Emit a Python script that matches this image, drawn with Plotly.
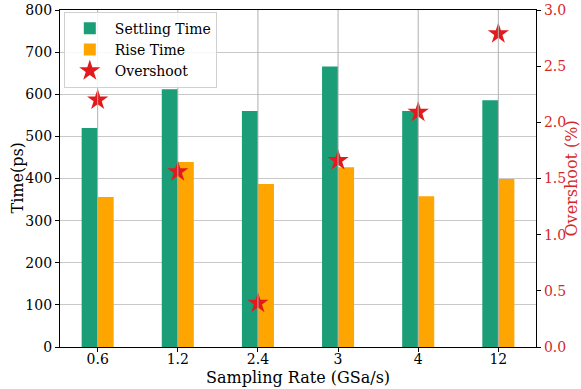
import plotly.graph_objects as go

categories = ["0.6", "1.2", "2.4", "3", "4", "12"]
settling_time = [520, 612, 560, 666, 560, 586]
rise_time = [356, 439, 387, 427, 358, 399]
overshoot = [2.2, 1.56, 0.39, 1.66, 2.09, 2.79]
left_ticks = [0, 100, 200, 300, 400, 500, 600, 700, 800]
right_ticks = [0.0, 0.5, 1.0, 1.5, 2.0, 2.5, 3.0]

idx = list(range(len(categories)))
FONT = "DejaVu Serif"
GREEN = "#1b9e77"
ORANGE = "#ffa500"
RED = "#e31a1c"
AXRED = "#d62728"

fig = go.Figure()
fig.add_trace(go.Bar(x=idx, y=settling_time, width=0.2, offset=-0.2,
                     marker=dict(color=GREEN, line=dict(width=0)), name="Settling Time"))
fig.add_trace(go.Bar(x=idx, y=rise_time, width=0.2, offset=0,
                     marker=dict(color=ORANGE, line=dict(width=0)), name="Rise Time"))
fig.add_trace(go.Scatter(x=idx, y=overshoot, mode="markers", yaxis="y2",
                         marker=dict(symbol="star", size=16, color=RED, line=dict(width=0)),
                         name="Overshoot"))

# vertical grid lines drawn above bars (as in reference)
for i in idx:
    fig.add_shape(type="line", xref="x", yref="paper", x0=i, x1=i, y0=0, y1=1,
                  line=dict(color="#b0b0b0", width=1), layer="above")

tick_font = dict(family=FONT, size=14, color="black")

fig.update_layout(
    width=581, height=389,
    margin=dict(l=60, r=45, t=10, b=42),
    paper_bgcolor="white", plot_bgcolor="white",
    font=dict(family=FONT, size=14, color="black"),
    barmode="overlay",
    xaxis=dict(range=[-0.47, 5.47], tickmode="array", tickvals=idx, ticktext=categories,
               showgrid=False, showline=True, linecolor="black", linewidth=1.2, mirror=True,
               ticks="outside", ticklen=4, tickcolor="black", zeroline=False, automargin=False,
               ticklabelstandoff=-5, tickfont=tick_font),
    yaxis=dict(range=[0, 800], tickmode="array", tickvals=left_ticks,
               showgrid=True, gridcolor="#c8c8c8", gridwidth=1,
               showline=True, linecolor="black", linewidth=1.2, automargin=False,
               ticks="outside", ticklen=4, tickcolor="black", zeroline=False,
               tickfont=tick_font),
    yaxis2=dict(range=[0, 3], overlaying="y", side="right", tickmode="array",
                tickvals=right_ticks, tickformat=".1f", showgrid=False,
                showline=True, linecolor="black", linewidth=1.2, automargin=False,
                ticks="outside", ticklen=4, tickcolor="black", zeroline=False,
                tickfont=dict(family=FONT, size=14, color=AXRED)),
    legend=dict(x=0.008, y=0.995, xanchor="left", yanchor="top",
                bgcolor="rgba(255,255,255,0.85)", bordercolor="#d0d0d0", borderwidth=1,
                font=dict(family=FONT, size=14), itemwidth=40, tracegroupgap=2),
    showlegend=True,
    annotations=[
        dict(text="Sampling Rate (GSa/s)", xref="paper", yref="paper", x=0.5, y=0,
             xanchor="center", yanchor="middle", yshift=-30, showarrow=False,
             font=dict(family=FONT, size=16, color="black")),
        dict(text="Time(ps)", xref="paper", yref="paper", x=0, y=0.5, textangle=-90,
             xanchor="center", yanchor="middle", xshift=-43, showarrow=False,
             font=dict(family=FONT, size=16, color="black")),
        dict(text="Overshoot (%)", xref="paper", yref="paper", x=1, y=0.5, textangle=-90,
             xanchor="center", yanchor="middle", xshift=35, showarrow=False,
             font=dict(family=FONT, size=16, color=AXRED)),
    ],
)

fig.write_html("out.html")
